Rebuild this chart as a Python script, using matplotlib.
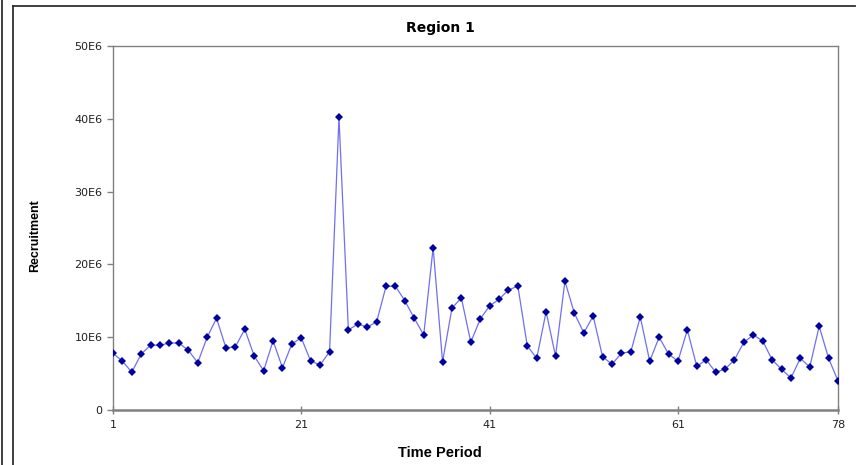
import matplotlib.pyplot as plt
from matplotlib.lines import Line2D

# Recruitment per time period (millions)
periods = list(range(1, 79))
recruit_m = [7.8, 6.7, 5.2, 7.7, 8.9, 8.9, 9.2, 9.2, 8.2, 6.5,
             10.0, 12.6, 8.5, 8.7, 11.1, 7.4, 5.4, 9.5, 5.8, 9.1,
             9.9, 6.7, 6.2, 8.0, 40.2, 11.0, 11.8, 11.4, 12.1, 17.0,
             17.0, 15.0, 12.6, 10.3, 22.3, 6.6, 14.0, 15.4, 9.3, 12.5,
             14.3, 15.2, 16.5, 17.0, 8.8, 7.1, 13.5, 7.4, 17.7, 13.3,
             10.6, 12.9, 7.3, 6.3, 7.8, 8.0, 12.8, 6.7, 10.0, 7.7,
             6.7, 11.0, 6.0, 6.9, 5.2, 5.6, 6.9, 9.3, 10.3, 9.5,
             6.9, 5.6, 4.4, 7.1, 5.9, 11.5, 7.1, 4.0]
xticks = [1, 21, 41, 61, 78]
yticks = [0, 10e6, 20e6, 30e6, 40e6, 50e6]
ylabels = ['0', '10E6', '20E6', '30E6', '40E6', '50E6']

recruit = [v * 1e6 for v in recruit_m]

plt.rcParams['font.family'] = ['DejaVu Sans']

fig = plt.figure(figsize=(8.56, 4.65), dpi=100)
ax = fig.add_axes([113/856, 55/465, 725/856, 364/465])

ax.plot(periods, recruit, '-', color='#7070ee', lw=0.9, zorder=2)
ax.plot(periods, recruit, 'D', color='#0000a0', ms=4, mew=0, zorder=3)

ax.set_xlim(1, 78)
ax.set_ylim(0, 50e6)
ax.set_xticks(xticks)
ax.set_yticks(yticks)
ax.set_yticklabels(ylabels)
ax.tick_params(axis='both', labelsize=8, colors='#808080', labelcolor='#202020', length=4, width=1)
ax.tick_params(axis='x', direction='inout', length=6, pad=4)
ax.tick_params(axis='y', direction='out', pad=3.5)
for s in ax.spines.values():
    s.set_color('#808080')
    s.set_linewidth(1)
ax.spines['bottom'].set_linewidth(1.8)

# titles, centred on the chart area like the original
fig.text(440/856, 1 - 32/465, 'Region 1', ha='center', va='baseline',
         fontsize=10, fontweight='bold', family=['DejaVu Sans'])
fig.text(440/856, 8/465, 'Time Period', ha='center', va='baseline',
         fontsize=10.5, fontweight='bold', family=['Liberation Sans', 'DejaVu Sans'])
fig.text(35/856, 1 - 236/465, 'Recruitment', ha='center', va='center', rotation=90,
         fontsize=9, fontweight='bold', family=['Liberation Sans', 'DejaVu Sans'])

# outer frame: two lines at the left, one along the top
W, H = 856, 465
for xs, ys in [([1.5, 1.5], [0, H]), ([13, 13], [0, H - 6]), ([13, 855], [H - 6, H - 6])]:
    fig.add_artist(Line2D([x / W for x in xs], [y / H for y in ys], color='#303030',
                          lw=1.3, transform=fig.transFigure))

fig.savefig('out.png', dpi=100)
